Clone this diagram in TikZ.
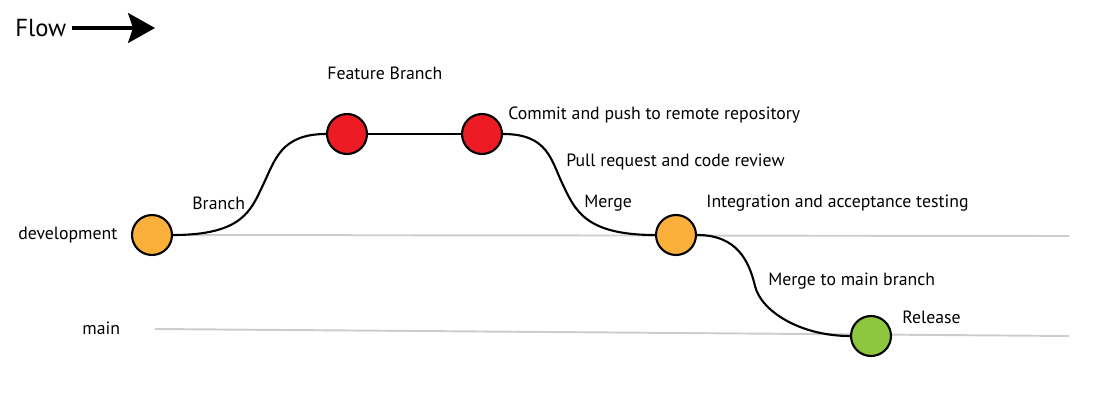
\documentclass[tikz,border=0pt]{standalone}
\usepackage{fontspec}
\setmainfont{PT Sans}
\usetikzlibrary{arrows.meta,positioning}

\definecolor{devorange}{HTML}{FBB03B}
\definecolor{featred}{HTML}{ED1C24}
\definecolor{relgreen}{HTML}{8DC63F}
\definecolor{trackgray}{HTML}{CCCCCC}

\begin{document}
\begin{tikzpicture}[x=0.02cm, y=-0.02cm]
			\tikzstyle{Commit} 	= [circle, draw, line width=1.2pt, minimum size=0.8cm, inner sep=0pt]
			\tikzstyle{Dev}		= [fill=devorange]
			\tikzstyle{Feature}	= [fill=featred]
			\tikzstyle{Rel}		= [fill=relgreen]
			\tikzstyle{Track}	= [line width=1.1pt, trackgray]
			\tikzstyle{Path}	= [line width=1.2pt, black]
			\tikzstyle{Label}	= [anchor=west, inner sep=0pt, font=\fontsize{10.1}{12}\selectfont]

			\useasboundingbox (0,0) rectangle (1119,405);

			% flow arrow
			\node (flow) at (15,28) [anchor=west, inner sep=0pt, font=\fontsize{14}{16}\selectfont] {Flow};
			\coordinate (flowtip) at (155,28);
			\draw [line width=1.8pt, shorten <=0.1cm, -{Stealth[length=0.54cm, width=0.6cm, inset=0.1cm]}] (flow.east) -- (flowtip);

			% tracks
			\coordinate (devstart) at (152,235);
			\coordinate (devend) at (1069,236);
			\coordinate (mainstart) at (155,329);
			\coordinate (mainend) at (1069,336);
			\draw [Track] (devstart) -- (devend);
			\draw [Track] (mainstart) -- (mainend);

			\node (tdev) at (18,235) [Label] {development};
			\node (tmain) at (82,328) [Label] {main};

			% commits
			\node (d1) at (152,235) [Commit][Dev] {};
			\node (f1) at (347,134) [Commit][Feature] {};
			\node (f2) at (482,134) [Commit][Feature] {};
			\node (d2) at (676,235) [Commit][Dev] {};
			\node (m1) at (871,336) [Commit][Rel] {};

			\coordinate (b1) at (263,185);
			\coordinate (b2) at (563,185);
			\coordinate (b3) at (755,286);

			\draw [Path] (d1.east) .. controls +(70,0) and +(-12,25) .. (b1) .. controls +(12,-25) and +(-45,0) .. (f1.west);
			\draw [Path] (f1) -- (f2);
			\draw [Path] (f2.east) .. controls +(45,0) and +(-12,-25) .. (b2) .. controls +(12,25) and +(-70,0) .. (d2.west);
			\draw [Path] (d2.east) .. controls +(40,0) and +(-6,-25) .. (b3) .. controls +(6,25) and +(-50,0) .. (m1.west);

			% labels
			\node (tfeat) at (327,73) [Label] {Feature Branch};
			\node (tpush) at (508,115) [Label] {Commit and push to remote repository};
			\node (tpull) at (566,162) [Label] {Pull request and code review};
			\node (tbranch) at (192,203) [Label] {Branch};
			\node (tmerge) at (584,203) [Label] {Merge};
			\node (ttest) at (706,203) [Label] {Integration and acceptance testing};
			\node (tmm) at (768,281) [Label] {Merge to main branch};
			\node (trel) at (902,317) [Label] {Release};
		\end{tikzpicture}
\end{document}
